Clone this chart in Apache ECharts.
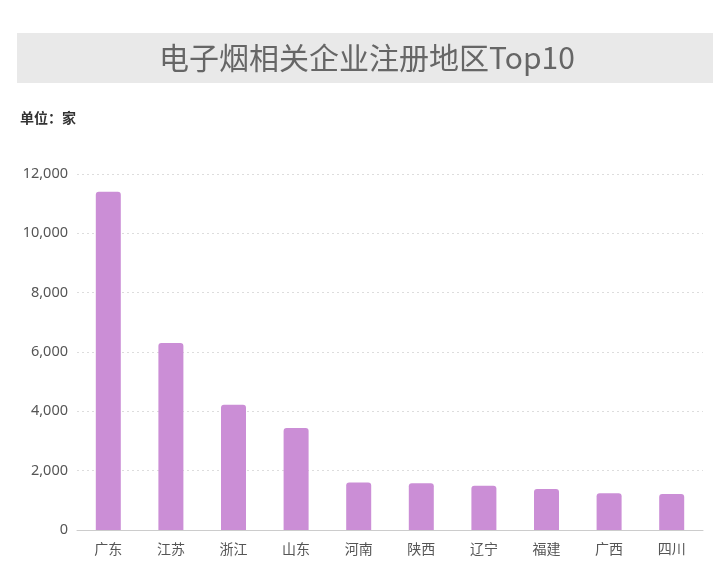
<!DOCTYPE html>
<html><head><meta charset="utf-8">
<script src="https://cdn.jsdelivr.net/npm/echarts@6/dist/echarts.min.js"></script>
<style>html,body{margin:0;padding:0;background:#fff;}#c{width:713px;height:579px;}</style>
</head><body><div id="c"></div>
<script>
const categories = ['广东','江苏','浙江','山东','河南','陕西','辽宁','福建','广西','四川'];
const values = [11400, 6300, 4220, 3440, 1600, 1580, 1490, 1380, 1240, 1210];
const yTicks = [0, 2000, 4000, 6000, 8000, 10000, 12000];
const titleText = '电子烟相关企业注册地区Top10';
const unitText = '单位：家';

const chart = echarts.init(document.getElementById('c'));
chart.setOption({
  backgroundColor: '#fff',
  animation: false,
  graphic: [
    {type:'rect', left:17, top:33, shape:{width:696, height:50}, style:{fill:'#e9e9e9'}, z:-1},
    {type:'text', x:367, y:58, style:{text:titleText, fill:'#666', align:'center', verticalAlign:'middle', font:'30px "Noto Sans CJK SC", sans-serif'}},
  ],
  title: {text: unitText, left: 15, top: 106, textStyle:{fontSize:14, fontWeight:'bold', color:'#333', fontFamily:'"Noto Sans CJK SC", sans-serif'}},
  grid: {left: 77, right: 10, top: 174, bottom: 49, containLabel: false},
  xAxis: {
    type:'category', data: categories,
    axisLine:{lineStyle:{color:'#ccc'}},
    axisTick:{alignWithLabel:true, lineStyle:{color:'#ccc'}, length:4},
    axisLabel:{color:'#555', fontSize:14, margin:12, fontFamily:'"Noto Sans CJK SC", sans-serif'}
  },
  yAxis: {
    type:'value', min: yTicks[0], max: yTicks[yTicks.length-1], interval: 2000,
    axisLine:{show:false}, axisTick:{show:false},
    axisLabel:{color:'#555', fontSize:14.5, margin:9, formatter: v => v.toLocaleString('en-US'), fontFamily:'"Noto Sans", sans-serif'},
    splitLine:{lineStyle:{color:'#ddd', type:[2,3]}}
  },
  series: [{
    type:'bar', data: values, barWidth: 25,
    itemStyle:{color:'#CB8ED6', borderRadius:[3,3,0,0]}
  }]
});
</script></body></html>
